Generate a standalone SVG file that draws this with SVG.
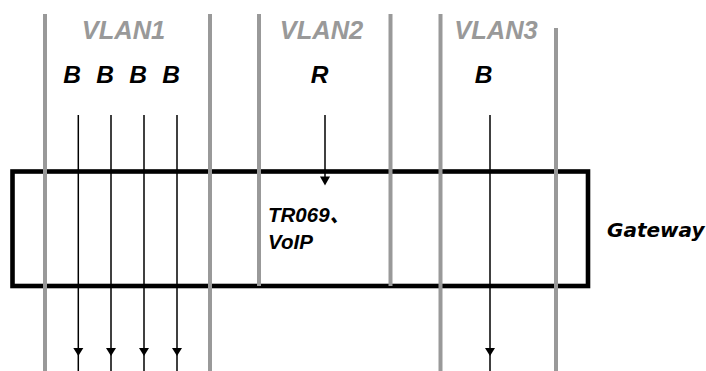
<svg xmlns="http://www.w3.org/2000/svg" width="706" height="371" viewBox="0 0 706 371">
<defs>
<style>
.vl{stroke:#999;stroke-width:4;fill:none}
.box{stroke:#000;stroke-width:4.6;fill:#fff}
.ar{stroke:#000;stroke-width:1.5;fill:none}
.hd{fill:#000}
.vlan{font-family:"Liberation Sans",Arial,sans-serif;font-weight:bold;font-style:italic;font-size:25.5px;fill:#999;text-anchor:middle}
.lt{font-family:"Liberation Sans",Arial,sans-serif;font-weight:bold;font-style:italic;font-size:24.5px;fill:#000;text-anchor:middle}
.tx{font-family:"Liberation Sans",Arial,"Noto Sans CJK SC",sans-serif;font-weight:bold;font-style:italic;font-size:20.5px;fill:#000}
.gw{font-family:"DejaVu Sans",Verdana,sans-serif;font-weight:bold;font-style:italic;font-size:20px;fill:#000}
</style>
</defs>
<g id="gateway">
<rect class="box" x="12.5" y="171.5" width="575.5" height="114.5"/>
<text class="tx" x="268" y="222">TR069、</text>
<text class="tx" x="268" y="249">VoIP</text>
<text class="gw" x="607" y="237">Gateway</text>
</g>
<g id="vlan-lines">
<line class="vl" x1="45" y1="14" x2="45" y2="371"/>
<line class="vl" x1="210" y1="14" x2="210" y2="371"/>
<line class="vl" x1="259" y1="14" x2="259" y2="286"/>
<line class="vl" x1="390.5" y1="14" x2="390.5" y2="286"/>
<line class="vl" x1="440.5" y1="14" x2="440.5" y2="371"/>
<line class="vl" x1="556" y1="28" x2="556" y2="371"/>
</g>
<g id="vlan1">
<text class="vlan" x="123.5" y="39">VLAN1</text>
<text class="lt" x="72" y="83">B</text>
<text class="lt" x="105" y="83">B</text>
<text class="lt" x="138" y="83">B</text>
<text class="lt" x="171" y="83">B</text>
</g>
<g id="vlan2">
<text class="vlan" x="321.5" y="39">VLAN2</text>
<text class="lt" x="319.5" y="83">R</text>
</g>
<g id="vlan3">
<text class="vlan" x="496" y="39">VLAN3</text>
<text class="lt" x="483.5" y="83">B</text>
</g>
<g id="connectors">
<line class="ar" x1="78.3" y1="115" x2="78.3" y2="371"/>
<polygon class="hd" points="73.3,348 83.3,348 78.3,356"/>
<line class="ar" x1="111" y1="115" x2="111" y2="371"/>
<polygon class="hd" points="106,348 116,348 111,356"/>
<line class="ar" x1="144" y1="115" x2="144" y2="371"/>
<polygon class="hd" points="139,348 149,348 144,356"/>
<line class="ar" x1="177" y1="115" x2="177" y2="371"/>
<polygon class="hd" points="172,348 182,348 177,356"/>
<line class="ar" x1="325" y1="115" x2="325" y2="178"/>
<polygon class="hd" points="320,176.5 330,176.5 325,185.5"/>
<line class="ar" x1="490" y1="115" x2="490" y2="371"/>
<polygon class="hd" points="485,348 495,348 490,356"/>
</g>
</svg>
